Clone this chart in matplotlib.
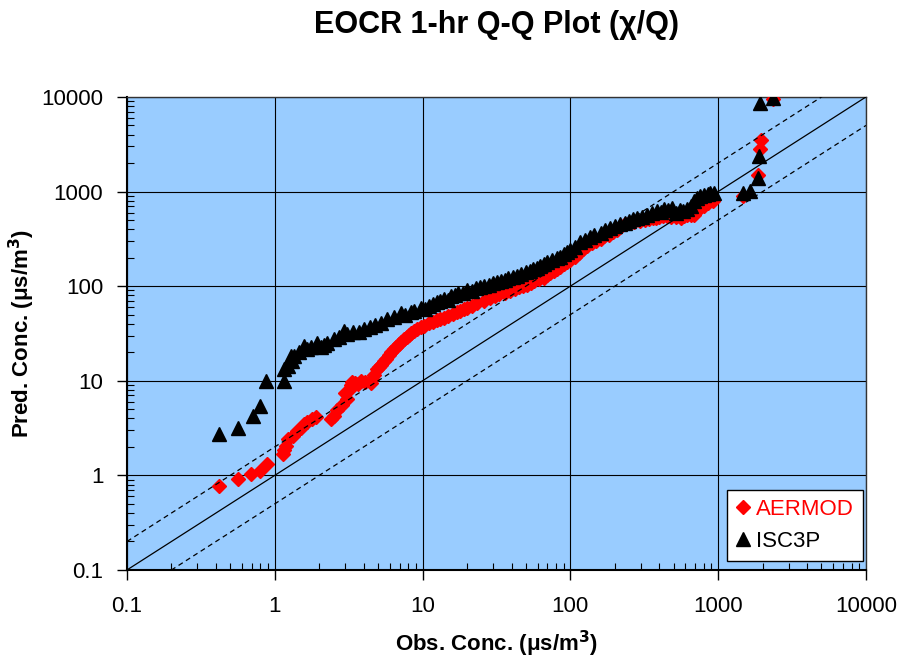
import matplotlib
matplotlib.use("Agg")
import matplotlib.pyplot as plt
from matplotlib.ticker import LogLocator, FixedLocator, NullFormatter

plt.rcParams['font.family'] = ['Liberation Sans', 'DejaVu Sans']

aermod_obs = [0.42, 0.56, 0.69, 0.80, 0.89, 1.13, 1.16, 1.19, 1.22, 1.32,
              1.42, 1.50, 1.58, 1.66, 1.78, 1.89, 2.39, 2.50, 2.65, 2.85,
              3.0, 3.10, 3.20, 3.26, 3.35, 3.50, 3.65, 3.81, 4.1, 4.45,
              4.55, 4.70, 4.94, 5.05, 5.2, 5.48, 5.65, 5.9, 6.15, 6.4,
              6.65, 6.9, 7.2, 7.48, 7.8, 8.1, 8.4, 8.73, 9.2, 9.7,
              10.3, 11.0, 11.7, 12.5, 13.2, 13.9, 14.9, 16.0, 17.0, 18.0,
              19.0, 20.0, 21.7, 23.5, 26, 28.8, 30.8, 33.0, 36, 39.3,
              42, 45, 48, 50.9, 54, 57, 61, 66, 69, 73,
              77, 81, 85, 90, 95, 100, 107, 115, 122, 130,
              140, 150, 160, 170, 182, 195, 207, 218, 235, 250,
              270, 297, 320, 340, 360, 380, 400, 425, 450, 480,
              520, 560, 590, 620, 650, 681, 740, 800, 860, 925,
              1480, 1870, 1920, 1940, 2360]
aermod_pred = [0.77, 0.91, 1.03, 1.11, 1.31, 1.67, 1.85, 2.04, 2.4, 2.6,
               2.94, 3.2, 3.5, 3.7, 3.9, 4.1, 3.9, 4.2, 4.9, 5.6,
               7.5, 6.4, 8.0, 9.0, 9.6, 9.5, 9.3, 9.9, 9.6, 9.4,
               10.5, 11.5, 13.2, 14, 14.8, 16.2, 17, 18.5, 20, 21.5,
               23, 24.5, 26, 27.4, 29, 30.5, 32, 33.5, 35, 37,
               38, 41, 42, 44, 45, 46.5, 48, 51, 53, 55,
               57, 59, 62, 66, 70, 75, 78, 82, 85, 89,
               93, 97, 100, 104, 108, 113, 118, 123, 130, 137,
               144, 151, 160, 170, 180, 190, 205, 225, 245, 265,
               285, 300, 318, 335, 350, 370, 395, 420, 450, 470,
               480, 490, 500, 510, 520, 530, 540, 550, 545, 540,
               535, 530, 545, 560, 560, 560, 650, 700, 760, 790,
               900, 1500, 2800, 3500, 9400]

# ISC3P (black triangles)
isc_obs = [0.42, 0.56, 0.71, 0.80, 0.87, 1.16, 1.15, 1.22, 1.28, 1.3,
           1.34, 1.45, 1.57, 1.66, 1.75, 1.94, 2.05, 2.15, 2.27, 2.50,
           2.7, 2.94, 3.1, 3.4, 3.7, 4.01, 4.4, 4.8, 5.2, 5.77,
           6.4, 7.1, 7.6, 8.3, 8.8, 9.7, 10.4, 11, 11.8, 12.5,
           13.2, 14, 14.8, 15.5, 16.5, 17.5, 18.8, 20, 21.5, 23,
           24.5, 26, 28, 30, 32, 34, 36, 38, 41, 43.6,
           46, 50, 53, 56, 59, 62.7, 66, 70, 75, 81,
           85, 90, 95, 100, 108, 117, 125, 135, 145, 160,
           172, 185, 200, 218, 235, 250, 265, 282, 305, 330,
           355, 385, 410, 430, 460, 487, 520, 550, 580, 614,
           650, 681, 720, 756, 800, 850, 880, 930, 1483, 1645,
           1872, 1893, 1922, 2342]
isc_pred = [2.71, 3.19, 4.24, 5.4, 9.9, 9.9, 13.2, 14.3, 18.2, 16,
            18.2, 20, 23.3, 21.5, 23, 25.3, 22.5, 24, 25.3, 27.4,
            29, 33.5, 31, 32.4, 33, 34.9, 37, 39, 41, 44.6,
            47, 52.5, 50, 52.8, 55, 59, 58, 62, 65, 68,
            70, 74, 72, 78, 80, 84, 85, 90, 88, 96,
            97, 100, 103, 108, 110, 114, 116, 121, 125, 128,
            133, 140, 144, 152, 155, 163, 170, 180, 190, 200,
            205, 220, 228, 240, 262, 290, 305, 330, 345, 368,
            390, 410, 430, 450, 470, 490, 510, 530, 540, 570,
            590, 622, 610, 650, 640, 676, 600, 640, 620, 650,
            700, 800, 850, 900, 920, 950, 960, 973, 973, 1012,
            1403, 2372, 8710, 9840]

ref_x = [0.1, 10000]
ref_ratios = [1.0, 2.0, 0.5]
ref_styles = ['-', '--', '--']

fig = plt.figure(figsize=(9.03, 6.60), dpi=100)
ax = fig.add_axes([0.1406, 0.1364, 0.8184, 0.7167])
ax.set_facecolor('#99CCFF')

ax.plot(aermod_obs, aermod_pred, 'D', color='#FF0000', mec='#FF0000',
        ms=7.5, ls='none', label='AERMOD', zorder=3)
ax.plot(isc_obs, isc_pred, '^', color='black', mec='black',
        ms=10, ls='none', label='ISC3P', zorder=4)

for r, st in zip(ref_ratios, ref_styles):
    ax.plot(ref_x, [v * r for v in ref_x], color='black', ls=st, lw=0.9,
            dashes=(4, 3) if st == '--' else (None, None), zorder=5)

ax.set_xscale('log')
ax.set_yscale('log')
ax.set_xlim(0.1, 10000)
ax.set_ylim(0.1, 10000)

ticks = [0.1, 1, 10, 100, 1000, 10000]
tick_labels = ['0.1', '1', '10', '100', '1000', '10000']
ax.xaxis.set_major_locator(FixedLocator(ticks))
ax.yaxis.set_major_locator(FixedLocator(ticks))
ax.set_xticklabels(tick_labels)
ax.set_yticklabels(tick_labels)
for a in (ax.xaxis, ax.yaxis):
    a.set_minor_locator(LogLocator(base=10, subs=range(2, 10), numticks=20))
    a.set_minor_formatter(NullFormatter())

ax.tick_params(which='major', direction='out', length=7, width=1,
               labelsize=16, colors='black')
ax.tick_params(axis='x', which='major', pad=12)
ax.tick_params(axis='y', which='major', pad=10)
ax.tick_params(which='minor', direction='in', length=5, width=0.8)

ax.grid(True, which='major', color='black', lw=0.8, zorder=1)
ax.set_axisbelow(True)
for side in ('left', 'bottom'):
    ax.spines[side].set_linewidth(1.5)
    ax.spines[side].set_color('black')
for side in ('top', 'right'):
    ax.spines[side].set_linewidth(1)
    ax.spines[side].set_color('#333333')

ax.set_title('EOCR 1-hr Q-Q Plot (\u03c7/Q)', fontsize=22, fontweight='bold',
             pad=46)
ax.set_xlabel('Obs. Conc. (\u03bcs/m$^{\\mathbf{3}}$)', fontsize=16,
              fontweight='bold', labelpad=8)
ax.set_ylabel('Pred. Conc. (\u03bcs/m$^{\\mathbf{3}}$)', fontsize=16,
              fontweight='bold', labelpad=3)

leg = ax.legend(loc='lower right', bbox_to_anchor=(0.996, 0.02), fontsize=16,
                frameon=True, fancybox=False, edgecolor='black',
                handlelength=0.6, handletextpad=0.3, borderpad=0.4,
                labelspacing=0.5, borderaxespad=0)
leg.get_frame().set_linewidth(1)
leg.get_frame().set_facecolor('white')
leg.get_frame().set_alpha(1)
leg.get_texts()[0].set_color('#FF0000')
leg.get_texts()[1].set_color('black')

fig.savefig('out.png', dpi=100)
